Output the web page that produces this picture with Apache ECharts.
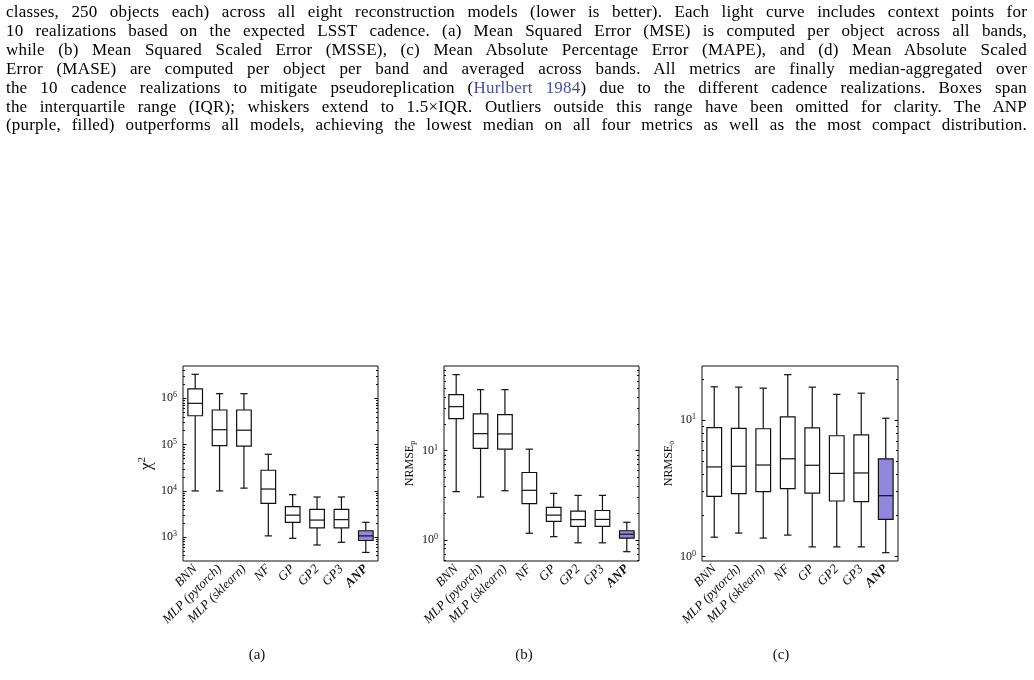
<!DOCTYPE html>
<html>
<head>
<meta charset="utf-8">
<script src="https://cdn.jsdelivr.net/npm/echarts@6/dist/echarts.min.js"></script>
<style>
body { margin: 0; background: #fff; }
#main { position: absolute; left: 0; top: 0; width: 1034px; height: 680px; }
#caption { position: absolute; left: 6px; top: 3px; width: 1021px; font-family: 'Liberation Serif', serif; font-size: 17px; line-height: 18.9px; color: #000; letter-spacing: 0.2px; }
#caption div { text-align: justify; text-align-last: justify; white-space: nowrap; }
#caption .cite { color: #4b4bab; }
</style>
</head>
<body>
<div id="main"></div>
<div id="caption">
<div>classes, 250 objects each) across all eight reconstruction models (lower is better). Each light curve includes context points for</div>
<div>10 realizations based on the expected LSST cadence. (a) Mean Squared Error (MSE) is computed per object across all bands,</div>
<div>while (b) Mean Squared Scaled Error (MSSE), (c) Mean Absolute Percentage Error (MAPE), and (d) Mean Absolute Scaled</div>
<div>Error (MASE) are computed per object per band and averaged across bands. All metrics are finally median-aggregated over</div>
<div>the 10 cadence realizations to mitigate pseudoreplication (<span class="cite">Hurlbert 1984</span>) due to the different cadence realizations. Boxes span</div>
<div>the interquartile range (IQR); whiskers extend to 1.5×IQR. Outliers outside this range have been omitted for clarity. The ANP</div>
<div>(purple, filled) outperforms all models, achieving the lowest median on all four metrics as well as the most compact distribution.</div>
</div>
<script>
var myChart = echarts.init(document.getElementById('main'));

var categories = ['BNN', 'MLP (pytorch)', 'MLP (sklearn)', 'NF', 'GP', 'GP2', 'GP3', 'ANP'];

// per model: [lower whisker, Q1, median, Q3, upper whisker]
var chi2 = [
    [1.0e4, 4.2e5, 7.8e5, 1.6e6, 3.3e6],
    [1.0e4, 9.5e4, 2.1e5, 5.6e5, 1.26e6],
    [1.15e4, 9.3e4, 2.05e5, 5.6e5, 1.26e6],
    [1.07e3, 5.4e3, 1.1e4, 2.8e4, 6.2e4],
    [950, 2100, 3000, 4600, 8300],
    [680, 1600, 2350, 4000, 7400],
    [780, 1600, 2400, 4000, 7400],
    [470, 850, 1070, 1380, 2100]
];
var nrmseP = [
    [3.48, 22.8, 31.1, 42.4, 71],
    [3.03, 10.6, 15.5, 25.8, 48.2],
    [3.56, 10.4, 15.4, 25.3, 48.2],
    [1.19, 2.55, 3.6, 5.7, 10.4],
    [1.09, 1.62, 1.9, 2.32, 3.33],
    [0.93, 1.42, 1.69, 2.11, 3.16],
    [0.93, 1.42, 1.7, 2.14, 3.16],
    [0.74, 1.05, 1.16, 1.27, 1.58]
];
var nrmseO = [
    [1.39, 2.77, 4.55, 8.83, 17.6],
    [1.49, 2.9, 4.6, 8.73, 17.5],
    [1.37, 3.0, 4.7, 8.67, 17.2],
    [1.44, 3.16, 5.22, 10.6, 21.6],
    [1.18, 2.92, 4.68, 8.79, 17.5],
    [1.18, 2.56, 4.08, 7.7, 15.5],
    [1.18, 2.53, 4.11, 7.83, 15.8],
    [1.07, 1.88, 2.8, 5.22, 10.35]
];

// axis limits and labelled decades (exponents of 10)
var chi2Range = [307, 4.99e6];
var nrmsePRange = [0.582, 88.7];
var nrmseORange = [0.93, 25.0];
var chi2Ticks = [3, 4, 5, 6];
var nrmsePTicks = [0, 1];
var nrmseOTicks = [0, 1];

var FONT = 'Liberation Serif';
var INK = '#111';

var panels = [
    {data: chi2, range: chi2Range, ticks: chi2Ticks, name: '{chi|χ}{sup|2}',
     left: 183, top: 366, width: 195, height: 195, gap: 26, label: '(a)', labelX: 257},
    {data: nrmseP, range: nrmsePRange, ticks: nrmsePTicks, name: '{n|NRMSE}{sub|p}',
     left: 444, top: 366, width: 195, height: 195, gap: 27, label: '(b)', labelX: 524},
    {data: nrmseO, range: nrmseORange, ticks: nrmseOTicks, name: '{n|NRMSE}{sub|o}',
     left: 702, top: 366, width: 196, height: 195, gap: 26, label: '(c)', labelX: 781}
];

function minorTicks(lo, hi) {
    var out = [];
    for (var e = Math.floor(lo); e <= Math.ceil(hi); e++) {
        for (var m = 2; m < 10; m++) {
            var v = e + Math.log10(m);
            if (v > lo && v < hi) out.push(v);
        }
    }
    return out;
}

function renderBox(params, api) {
    var i = api.value(0);
    var lo = api.coord([i, api.value(1)]);
    var q1 = api.coord([i, api.value(2)]);
    var md = api.coord([i, api.value(3)]);
    var q3 = api.coord([i, api.value(4)]);
    var hi = api.coord([i, api.value(5)]);
    var bw = api.size([1, 0])[0];
    var boxW = bw * 0.6;
    var capW = boxW * 0.5;
    var x = md[0];
    var st = {stroke: INK, lineWidth: 1.2, fill: null};
    return {
        type: 'group',
        children: [
            {type: 'line', shape: {x1: x, y1: hi[1], x2: x, y2: q3[1]}, style: st},
            {type: 'line', shape: {x1: x, y1: q1[1], x2: x, y2: lo[1]}, style: st},
            {type: 'line', shape: {x1: x - capW / 2, y1: hi[1], x2: x + capW / 2, y2: hi[1]}, style: st},
            {type: 'line', shape: {x1: x - capW / 2, y1: lo[1], x2: x + capW / 2, y2: lo[1]}, style: st},
            {type: 'rect', shape: {x: x - boxW / 2, y: q3[1], width: boxW, height: q1[1] - q3[1]},
             style: {fill: categories[i] === 'ANP' ? '#9386dd' : '#fff', stroke: INK, lineWidth: 1.2}},
            {type: 'line', shape: {x1: x - boxW / 2, y1: md[1], x2: x + boxW / 2, y2: md[1]}, style: st}
        ]
    };
}

var grids = [], xAxes = [], yAxes = [], series = [], graphics = [];

panels.forEach(function (p, k) {
    var lo = Math.log10(p.range[0]);
    var hi = Math.log10(p.range[1]);
    var minors = minorTicks(lo, hi);

    grids.push({
        left: p.left, top: p.top, width: p.width, height: p.height,
        show: true, borderColor: INK, borderWidth: 1, backgroundColor: 'transparent',
        outerBoundsMode: 'none'
    });

    xAxes.push({
        type: 'category', gridIndex: k, data: categories, position: 'bottom',
        axisLine: {show: false},
        axisTick: {inside: true, alignWithLabel: true, length: 3, lineStyle: {color: INK}},
        axisLabel: {
            interval: 0, rotate: 45, margin: 6,
            fontFamily: FONT, fontStyle: 'italic', fontSize: 13, color: '#111',
            formatter: function (v) { return v === 'ANP' ? '{b|' + v + '}' : v; },
            rich: {b: {fontFamily: FONT, fontStyle: 'italic', fontWeight: 'bold', fontSize: 13, color: '#111'}}
        }
    });
    xAxes.push({
        type: 'category', gridIndex: k, data: categories, position: 'top',
        axisLine: {show: false},
        axisTick: {inside: true, alignWithLabel: true, length: 3, lineStyle: {color: INK}},
        axisLabel: {show: false}
    });

    ['left', 'right'].forEach(function (side) {
        yAxes.push({
            type: 'value', gridIndex: k, min: lo, max: hi, position: side,
            axisLine: {show: false}, splitLine: {show: false},
            axisTick: {show: true, inside: true, length: 3.5, customValues: p.ticks, lineStyle: {color: INK}},
            axisLabel: side === 'left' ? {
                customValues: p.ticks, margin: 6, color: '#111',
                formatter: function (v) { return '{b|10}{s|' + Math.round(v) + '}'; },
                rich: {
                    b: {fontFamily: FONT, fontSize: 12, lineHeight: 14, color: '#111'},
                    s: {fontFamily: FONT, fontSize: 8, lineHeight: 8, verticalAlign: 'top', color: '#111'}
                }
            } : {show: false},
            name: side === 'left' ? p.name : '',
            nameLocation: 'middle', nameGap: p.gap, nameRotate: 90,
            nameTextStyle: {
                color: '#111',
                rich: {
                    chi: {fontFamily: FONT, fontSize: 17, lineHeight: 20, color: '#111'},
                    sup: {fontFamily: FONT, fontSize: 11, lineHeight: 11, verticalAlign: 'top', color: '#111'},
                    n: {fontFamily: FONT, fontSize: 12, lineHeight: 14, color: '#111'},
                    sub: {fontFamily: FONT, fontSize: 8, lineHeight: 8, verticalAlign: 'bottom', color: '#111'}
                }
            }
        });
        yAxes.push({
            type: 'value', gridIndex: k, min: lo, max: hi, position: side,
            axisLine: {show: false}, splitLine: {show: false},
            axisTick: {show: true, inside: true, length: 2, customValues: minors, lineStyle: {color: INK}},
            axisLabel: {show: false}
        });
    });

    series.push({
        type: 'custom', xAxisIndex: 2 * k, yAxisIndex: 4 * k,
        renderItem: renderBox,
        encode: {x: 0, y: [1, 2, 3, 4, 5]},
        silent: true,
        data: p.data.map(function (row, i) {
            return [i].concat(row.map(function (v) { return Math.log10(v); }));
        })
    });

    graphics.push({
        type: 'text', x: p.labelX, y: 655,
        style: {text: p.label, align: 'center', verticalAlign: 'middle',
                fontFamily: FONT, fontSize: 15, fill: '#111'}
    });
});

var option = {
    backgroundColor: 'transparent',
    animation: false,
    grid: grids,
    xAxis: xAxes,
    yAxis: yAxes,
    series: series,
    graphic: graphics
};
myChart.setOption(option);
</script>
</body>
</html>
